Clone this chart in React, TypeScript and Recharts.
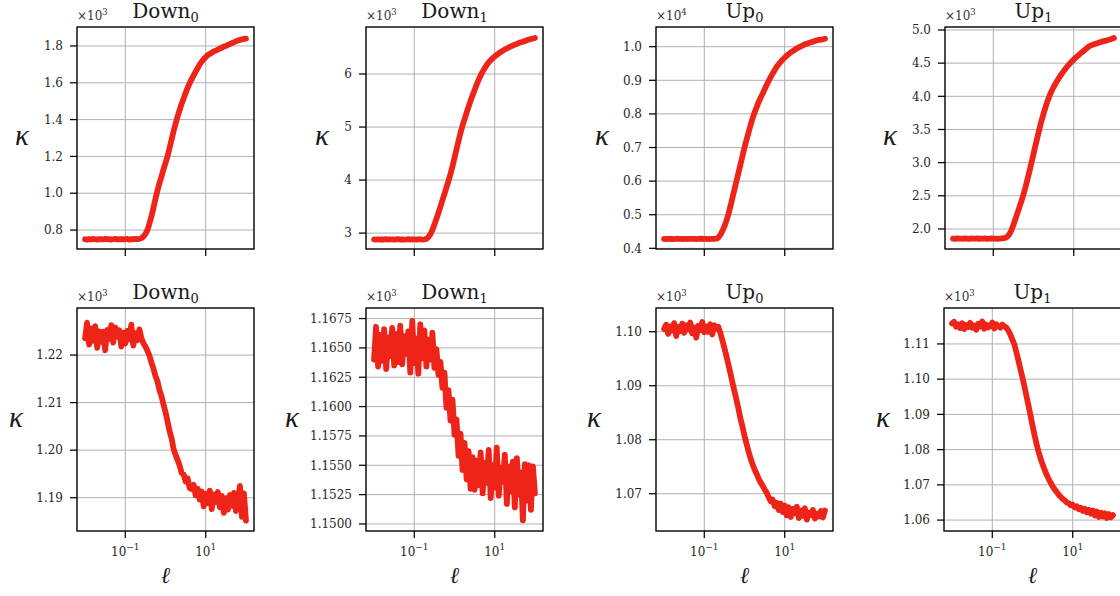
import React from 'react';
import { LineChart, Line, XAxis, YAxis, CartesianGrid } from 'recharts';

const FONT = '"DejaVu Serif", serif';
const MATH_FONT = '"Liberation Serif", serif';
const RED = '#ee2419';

// length scale, shared by all panels
const ell = [
  0.01, 0.0112, 0.0126, 0.0141, 0.0158, 0.0178, 0.02, 0.0224, 0.0251, 0.0282,
  0.0316, 0.0355, 0.0398, 0.0447, 0.0501, 0.0562, 0.0631, 0.0708, 0.0794, 0.0891,
  0.1, 0.112, 0.126, 0.141, 0.158, 0.178, 0.2, 0.224, 0.251, 0.282,
  0.316, 0.355, 0.398, 0.447, 0.501, 0.562, 0.631, 0.708, 0.794, 0.891,
  1, 1.12, 1.26, 1.41, 1.58, 1.78, 2, 2.24, 2.51, 2.82,
  3.16, 3.55, 3.98, 4.47, 5.01, 5.62, 6.31, 7.08, 7.94, 8.91,
  10, 11.2, 12.6, 14.1, 15.8, 17.8, 20, 22.4, 25.1, 28.2,
  31.6, 35.5, 39.8, 44.7, 50.1, 56.2, 63.1, 70.8, 79.4, 89.1,
  100,
];

// top row
const downZeroTop = [
  750, 748, 751, 749, 752, 750, 748, 751, 750, 749, 752, 750, 751, 748, 750, 752, 749, 750, 751, 749,
  750, 752, 748, 751, 750, 752, 751, 752, 756, 764, 778, 800, 835, 875, 920, 970, 1015, 1055, 1090, 1130,
  1165, 1200, 1245, 1290, 1335, 1378, 1418, 1452, 1485, 1515, 1545, 1572, 1598, 1620, 1640, 1660, 1680, 1700, 1715, 1728,
  1740, 1750, 1757, 1763, 1770, 1775, 1780, 1786, 1790, 1797, 1800, 1806, 1810, 1815, 1820, 1826, 1830, 1833, 1836, 1838,
  1840,
];
const downOneTop = [
  2880, 2875, 2884, 2878, 2882, 2879, 2885, 2877, 2881, 2883, 2876, 2880, 2884, 2879, 2882, 2878, 2881, 2885, 2877, 2880,
  2883, 2879, 2881, 2884, 2878, 2882, 2890, 2920, 2980, 3060, 3160, 3270, 3380, 3500, 3620, 3740, 3860, 3985, 4115, 4260,
  4420, 4580, 4740, 4890, 5025, 5150, 5270, 5385, 5495, 5600, 5700, 5800, 5890, 5975, 6045, 6110, 6170, 6220, 6262, 6300,
  6332, 6362, 6390, 6416, 6440, 6462, 6482, 6502, 6520, 6538, 6554, 6570, 6585, 6598, 6610, 6624, 6638, 6650, 6660, 6670,
  6680,
];
const upZeroTop = [
  4280, 4275, 4284, 4278, 4282, 4277, 4285, 4279, 4281, 4276, 4283, 4280, 4278, 4284, 4279, 4282, 4276, 4281, 4285, 4278,
  4280, 4283, 4277, 4282, 4279, 4281, 4290, 4320, 4400, 4520, 4650, 4820, 5020, 5250, 5500, 5750, 6000, 6250, 6500, 6750,
  7000, 7220, 7450, 7660, 7860, 8040, 8200, 8350, 8480, 8600, 8730, 8860, 8980, 9100, 9200, 9300, 9400, 9480, 9550, 9620,
  9680, 9730, 9780, 9830, 9870, 9910, 9950, 9980, 10010, 10040, 10070, 10090, 10110, 10130, 10150, 10170, 10190, 10200, 10210, 10220,
  10240,
];
const upOneTop = [
  1855, 1850, 1858, 1853, 1856, 1852, 1859, 1854, 1851, 1857, 1855, 1853, 1858, 1850, 1856, 1854, 1857, 1852, 1855, 1859,
  1853, 1856, 1851, 1855, 1857, 1860, 1865, 1885, 1920, 1980, 2060, 2150, 2240, 2330, 2420, 2520, 2630, 2750, 2870, 3000,
  3130, 3260, 3390, 3515, 3630, 3740, 3840, 3930, 4010, 4080, 4140, 4195, 4245, 4292, 4338, 4380, 4420, 4458, 4492, 4524,
  4554, 4582, 4610, 4636, 4662, 4688, 4712, 4740, 4760, 4772, 4784, 4794, 4804, 4814, 4824, 4832, 4840, 4848, 4858, 4868,
  4880,
];

// bottom row
const downZeroBottom = [
  1223.5, 1226.8, 1222.2, 1225.6, 1223.0, 1226.1, 1221.5, 1225.0, 1222.8, 1224.9, 1221.0, 1225.3, 1223.4, 1226.3, 1222.6, 1225.8, 1223.9, 1225.2, 1221.8, 1224.7,
  1222.4, 1225.1, 1223.3, 1226.4, 1222.0, 1224.6, 1223.1, 1225.4, 1223.6, 1222.5, 1221.8, 1220.9, 1219.9, 1218.4, 1217.2, 1215.6, 1214.5, 1212.6, 1211.4, 1209.6,
  1208.0, 1206.1, 1204.0, 1202.6, 1200.3, 1199.0, 1197.9, 1196.8, 1195.2, 1194.9, 1193.4, 1194.1, 1192.0, 1191.8, 1192.7, 1190.5, 1191.9, 1189.6, 1191.3, 1188.2,
  1190.8, 1188.9, 1191.5, 1187.6, 1190.7, 1189.1, 1191.2, 1188.0, 1190.4, 1186.8, 1189.9, 1187.5, 1190.6, 1188.3, 1191.0, 1187.2, 1189.4, 1192.5, 1186.0, 1190.9,
  1185.2,
];
const downOneBottom = [
  1164.0, 1166.8, 1163.4, 1166.1, 1163.9, 1166.6, 1163.2, 1165.9, 1164.3, 1166.7, 1163.5, 1166.2, 1163.8, 1166.9, 1163.6, 1166.0, 1164.5, 1166.4, 1162.9, 1167.3,
  1163.7, 1165.8, 1162.8, 1167.0, 1164.1, 1166.5, 1163.4, 1165.7, 1164.0, 1166.3, 1163.3, 1164.9, 1162.7, 1163.8, 1161.6, 1162.9, 1159.9, 1161.4, 1158.8, 1160.6,
  1157.6, 1158.9, 1155.8, 1157.7, 1154.6, 1156.9, 1153.8, 1156.2, 1153.0, 1155.7, 1152.9, 1155.4, 1153.3, 1156.1, 1152.6, 1155.2, 1153.5, 1156.3, 1152.2, 1155.0,
  1153.1, 1156.5, 1152.4, 1154.8, 1153.6, 1155.9, 1151.7, 1154.9, 1152.8, 1155.3, 1151.4, 1155.6, 1152.5, 1154.4, 1150.3, 1155.1, 1152.0, 1155.0, 1151.2, 1154.9,
  1152.6,
];
const upZeroBottom = [
  1100.5, 1101.3, 1099.6, 1101.0, 1100.2, 1101.6, 1099.2, 1100.9, 1100.1, 1101.5, 1099.8, 1101.2, 1100.4, 1101.7, 1099.7, 1100.8, 1098.9, 1101.1, 1100.3, 1101.8,
  1099.9, 1101.0, 1100.0, 1101.4, 1099.5, 1101.2, 1100.6, 1100.9, 1099.8, 1098.4, 1097.0, 1095.5, 1093.9, 1092.3, 1090.6, 1089.0, 1087.4, 1085.7, 1083.9, 1082.4,
  1080.7, 1079.3, 1077.8, 1076.6, 1075.5, 1074.5, 1073.7, 1072.8, 1072.1, 1071.5, 1070.8, 1070.2, 1069.4, 1068.6, 1068.9, 1067.7, 1068.3, 1067.0, 1068.2, 1066.6,
  1067.8, 1066.0, 1067.5, 1065.7, 1067.2, 1066.4, 1067.6, 1065.5, 1066.9, 1065.9, 1067.3, 1065.2, 1066.5, 1066.1, 1067.0, 1065.4, 1066.3, 1065.8, 1066.8, 1065.6,
  1066.9,
];
const upOneBottom = [
  1115.8, 1116.3, 1114.9, 1115.6, 1114.5, 1115.9, 1114.2, 1115.4, 1114.8, 1116.0, 1114.6, 1115.2, 1114.0, 1115.7, 1114.9, 1116.4, 1114.3, 1115.5, 1114.7, 1115.1,
  1116.1, 1114.4, 1115.6, 1115.0, 1114.6, 1115.5, 1115.0, 1114.6, 1113.8, 1112.6, 1111.2, 1109.8, 1107.6, 1105.3, 1102.8, 1100.5, 1097.9, 1095.2, 1092.5, 1089.7,
  1086.9, 1084.2, 1081.6, 1079.4, 1077.5, 1075.8, 1074.3, 1072.9, 1071.7, 1070.6, 1069.6, 1068.7, 1068.0, 1067.2, 1066.6, 1066.0, 1065.6, 1065.0, 1064.8, 1064.2,
  1064.4, 1063.6, 1063.9, 1063.1, 1063.5, 1062.6, 1063.2, 1062.2, 1062.9, 1061.8, 1062.7, 1061.3, 1062.4, 1060.9, 1062.1, 1061.0, 1061.9, 1060.6, 1061.7, 1060.8,
  1061.4,
];

const titles = ['Down', 'Down', 'Up', 'Up'];
const subscripts = ['0', '1', '0', '1'];

const topTicks = [
  [800, 1000, 1200, 1400, 1600, 1800],
  [3000, 4000, 5000, 6000],
  [4000, 5000, 6000, 7000, 8000, 9000, 10000],
  [2000, 2500, 3000, 3500, 4000, 4500, 5000],
];
const bottomTicks = [
  [1190, 1200, 1210, 1220],
  [1150, 1152.5, 1155, 1157.5, 1160, 1162.5, 1165, 1167.5],
  [1070, 1080, 1090, 1100],
  [1060, 1070, 1080, 1090, 1100, 1110],
];
const topDomains = [[697, 1903], [2700, 6887], [3980, 10586], [1698, 5045]];
const bottomDomains = [[1183.0, 1229.9], [1149.4, 1168.4], [1063.1, 1104.4], [1056.9, 1120.2]];
const topExponents = [3, 3, 4, 3];
const bottomExponents = [3, 3, 3, 3];
const topDecimals = [1, 0, 1, 1];
const bottomDecimals = [2, 4, 2, 2];
const xTicks = [0.1, 10];
const xDomain = [0.0063, 158.5];

type PanelSpec = {
  values: number[];
  ticks: number[];
  domain: number[];
  exponent: number;
  decimals: number;
  title: string;
  sub: string;
  left: number;
  top: number;
  width: number;
  height: number;
  kappaX: number;
  bottom: boolean;
};

const topLefts = [77, 366, 656, 945];
const bottomLefts = [77, 366, 656, 944];
const topKappaX = [22, 322, 602, 890];
const bottomKappaX = [16, 292, 594, 883];

const panels: PanelSpec[] = [
  ...[downZeroTop, downOneTop, upZeroTop, upOneTop].map((values, k) => ({
    values, ticks: topTicks[k], domain: topDomains[k], exponent: topExponents[k], decimals: topDecimals[k],
    title: titles[k], sub: subscripts[k], left: topLefts[k], top: 27, width: 177, height: 222,
    kappaX: topKappaX[k], bottom: false,
  })),
  ...[downZeroBottom, downOneBottom, upZeroBottom, upOneBottom].map((values, k) => ({
    values, ticks: bottomTicks[k], domain: bottomDomains[k], exponent: bottomExponents[k], decimals: bottomDecimals[k],
    title: titles[k], sub: subscripts[k], left: bottomLefts[k], top: 308, width: 177, height: 223,
    kappaX: bottomKappaX[k], bottom: true,
  })),
];

const LogTick = (props: any) => {
  const { x, y, payload } = props;
  const e = Math.round(Math.log10(payload.value));
  return (
    <text x={x} y={y + 16} textAnchor="middle" fill="#262626" fontFamily={FONT} fontSize={12}>
      10<tspan dy={-6} fontSize={9}>{e < 0 ? '\u2212' + -e : String(e)}</tspan>
    </text>
  );
};

const EmptyTick = () => <g />;

const PAD_L = 70;
const PAD_T = 10;
const PAD_R = 6;
const PAD_B = 44;

const Panel = ({ p }: { p: PanelSpec }) => {
  const rows = ell.map((l, i) => ({ ell: l, kappa: p.values[i] }));
  const scale = Math.pow(10, p.exponent);
  return (
    <div style={{ position: 'absolute', left: p.left - PAD_L, top: p.top - PAD_T }}>
      <LineChart
        width={PAD_L + p.width + PAD_R}
        height={PAD_T + p.height + PAD_B}
        data={rows}
        margin={{ top: PAD_T, right: PAD_R, bottom: 0, left: 0 }}
      >
        <CartesianGrid stroke="#b0b0b0" strokeWidth={1} />
        <XAxis
          dataKey="ell"
          type="number"
          scale="log"
          domain={xDomain}
          ticks={xTicks}
          allowDataOverflow
          interval={0}
          height={PAD_B}
          axisLine={false}
          tickSize={7}
          tickLine={{ stroke: '#000', strokeWidth: 1.25 }}
          tick={p.bottom ? <LogTick /> : <EmptyTick />}
        />
        <YAxis
          type="number"
          domain={p.domain}
          ticks={p.ticks}
          allowDataOverflow
          interval={0}
          width={PAD_L}
          axisLine={false}
          tickSize={7}
          tickMargin={7}
          tickLine={{ stroke: '#000', strokeWidth: 1.25 }}
          tick={{ fill: '#262626', fontSize: 12, fontFamily: FONT }}
          tickFormatter={(v: number) => (v / scale).toFixed(p.decimals)}
        />
        <Line
          dataKey="kappa"
          stroke={RED}
          strokeWidth={5.8}
          strokeLinejoin="round"
          strokeLinecap="round"
          dot={false}
          isAnimationActive={false}
        />
      </LineChart>
    </div>
  );
};

const Labels = () => (
  <svg width={1120} height={596} style={{ position: 'absolute', left: 0, top: 0, pointerEvents: 'none' }}>
    {panels.map((p, k) => {
      const cx = p.left + p.width / 2;
      const cy = p.top + p.height / 2;
      return (
        <g key={k} fontFamily={FONT} fill="#1a1a1a">
          <rect x={p.left} y={p.top} width={p.width} height={p.height} fill="none" stroke="#000" strokeWidth={1.3} />
          <text x={cx} y={p.top - 9} textAnchor="middle" fontSize={20}>
            {p.title}
            <tspan dy={4} fontSize={13}>{p.sub}</tspan>
          </text>
          <text x={p.left} y={p.top - 7} fontSize={12} fill="#333">
            {'\u00d710'}
            <tspan dy={-5} fontSize={8.5}>{String(p.exponent)}</tspan>
          </text>
          <text x={p.kappaX} y={cy + 7} textAnchor="middle" fontSize={29} fontStyle="italic" fontFamily={MATH_FONT}>
            {'\u03ba'}
          </text>
          {p.bottom && (
            <text x={cx} y={583} textAnchor="middle" fontSize={23} fontStyle="italic" fontFamily={FONT}>
              {'\u2113'}
            </text>
          )}
        </g>
      );
    })}
  </svg>
);

export default function App() {
  return (
    <div style={{ position: 'fixed', left: 0, top: 0, width: 1120, height: 596, overflow: 'hidden', background: '#fff' }}>
      {panels.map((p, k) => (
        <Panel key={k} p={p} />
      ))}
      <Labels />
    </div>
  );
}
